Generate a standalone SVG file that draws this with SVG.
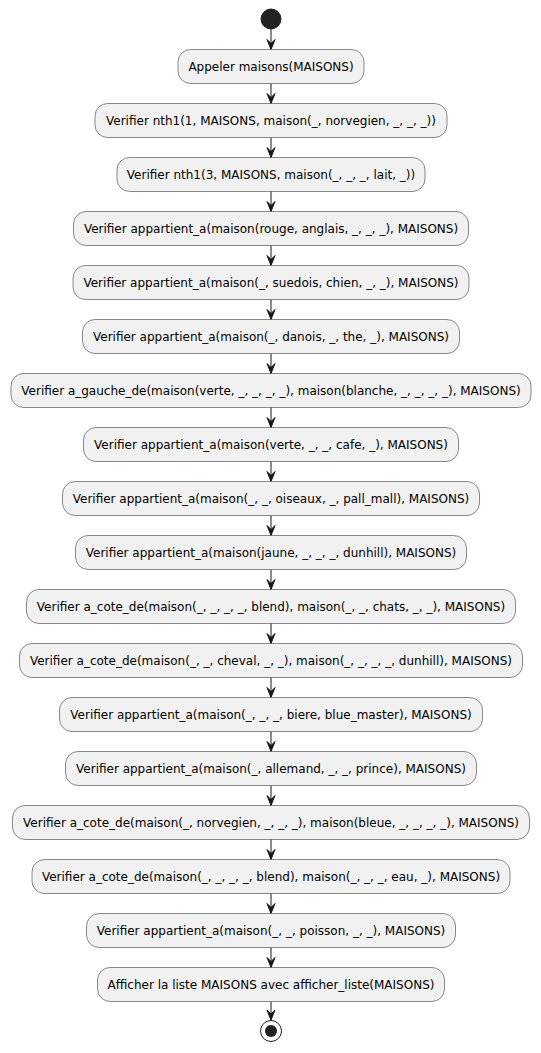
<svg xmlns="http://www.w3.org/2000/svg" width="541" height="1053" viewBox="0 0 541 1053">
<style>
.n{fill:#F1F1F1;stroke:#181818;stroke-width:0.5}
.t{font-family:"DejaVu Sans",sans-serif;font-size:12px;fill:#000;text-anchor:middle}
.c{stroke:#181818;stroke-width:1;fill:none}
</style>
<defs>
<marker id="ah" markerWidth="10" markerHeight="12" viewBox="-5 -11 10 12" refX="0" refY="0" orient="auto-start-reverse" markerUnits="userSpaceOnUse">
<polygon points="-4,-10 0,0 4,-10 0,-6" fill="#181818" stroke="#181818" stroke-width="1" transform="rotate(-90)"/>
</marker>
</defs>
<rect width="541" height="1053" fill="#FFFFFF"/>
<g id="connectors">
<path class="c" d="M271,29 V49.5"/>
<path class="c" d="M271,83.5 V103.5"/>
<path class="c" d="M271,137.5 V157.5"/>
<path class="c" d="M271,191.5 V211.5"/>
<path class="c" d="M271,245.5 V265.5"/>
<path class="c" d="M271,299.5 V319.5"/>
<path class="c" d="M271,353.5 V373.5"/>
<path class="c" d="M271,407.5 V427.5"/>
<path class="c" d="M271,461.5 V481.5"/>
<path class="c" d="M271,515.5 V535.5"/>
<path class="c" d="M271,569.5 V589.5"/>
<path class="c" d="M271,623.5 V643.5"/>
<path class="c" d="M271,677.5 V697.5"/>
<path class="c" d="M271,731.5 V751.5"/>
<path class="c" d="M271,785.5 V805.5"/>
<path class="c" d="M271,839.5 V859.5"/>
<path class="c" d="M271,893.5 V913.5"/>
<path class="c" d="M271,947.5 V967.5"/>
<path class="c" d="M271,1001.5 V1020"/>
<g fill="#181818" stroke="#181818" stroke-width="1">
<polygon points="267,39.5 271,49.5 275,39.5 271,43.5"/>
<polygon points="267,93.5 271,103.5 275,93.5 271,97.5"/>
<polygon points="267,147.5 271,157.5 275,147.5 271,151.5"/>
<polygon points="267,201.5 271,211.5 275,201.5 271,205.5"/>
<polygon points="267,255.5 271,265.5 275,255.5 271,259.5"/>
<polygon points="267,309.5 271,319.5 275,309.5 271,313.5"/>
<polygon points="267,363.5 271,373.5 275,363.5 271,367.5"/>
<polygon points="267,417.5 271,427.5 275,417.5 271,421.5"/>
<polygon points="267,471.5 271,481.5 275,471.5 271,475.5"/>
<polygon points="267,525.5 271,535.5 275,525.5 271,529.5"/>
<polygon points="267,579.5 271,589.5 275,579.5 271,583.5"/>
<polygon points="267,633.5 271,643.5 275,633.5 271,637.5"/>
<polygon points="267,687.5 271,697.5 275,687.5 271,691.5"/>
<polygon points="267,741.5 271,751.5 275,741.5 271,745.5"/>
<polygon points="267,795.5 271,805.5 275,795.5 271,799.5"/>
<polygon points="267,849.5 271,859.5 275,849.5 271,853.5"/>
<polygon points="267,903.5 271,913.5 275,903.5 271,907.5"/>
<polygon points="267,957.5 271,967.5 275,957.5 271,961.5"/>
<polygon points="267,1010 271,1020 275,1010 271,1014"/>
</g>
</g>
<g id="start"><circle cx="271" cy="19" r="10" fill="#222222" stroke="#222222" stroke-width="1"/></g>
<g id="n1"><rect class="n" x="178" y="49.5" width="186" height="34" rx="12.5"/><text class="t" x="271" y="71">Appeler maisons(MAISONS)</text></g>
<g id="n2"><rect class="n" x="95" y="103.5" width="352" height="34" rx="12.5"/><text class="t" x="271" y="125">Verifier nth1(1, MAISONS, maison(_, norvegien, _, _, _))</text></g>
<g id="n3"><rect class="n" x="117" y="157.5" width="308" height="34" rx="12.5"/><text class="t" x="271" y="179">Verifier nth1(3, MAISONS, maison(_, _, _, lait, _))</text></g>
<g id="n4"><rect class="n" x="73.5" y="211.5" width="395" height="34" rx="12.5"/><text class="t" x="271" y="233">Verifier appartient_a(maison(rouge, anglais, _, _, _), MAISONS)</text></g>
<g id="n5"><rect class="n" x="73" y="265.5" width="396" height="34" rx="12.5"/><text class="t" x="271" y="287">Verifier appartient_a(maison(_, suedois, chien, _, _), MAISONS)</text></g>
<g id="n6"><rect class="n" x="82.5" y="319.5" width="377" height="34" rx="12.5"/><text class="t" x="271" y="341">Verifier appartient_a(maison(_, danois, _, the, _), MAISONS)</text></g>
<g id="n7"><rect class="n" x="11" y="373.5" width="520" height="34" rx="12.5"/><text class="t" x="271" y="395">Verifier a_gauche_de(maison(verte, _, _, _, _), maison(blanche, _, _, _, _), MAISONS)</text></g>
<g id="n8"><rect class="n" x="83.5" y="427.5" width="375" height="34" rx="12.5"/><text class="t" x="271" y="449">Verifier appartient_a(maison(verte, _, _, cafe, _), MAISONS)</text></g>
<g id="n9"><rect class="n" x="62.5" y="481.5" width="417" height="34" rx="12.5"/><text class="t" x="271" y="503">Verifier appartient_a(maison(_, _, oiseaux, _, pall_mall), MAISONS)</text></g>
<g id="n10"><rect class="n" x="75.5" y="535.5" width="391" height="34" rx="12.5"/><text class="t" x="271" y="557">Verifier appartient_a(maison(jaune, _, _, _, dunhill), MAISONS)</text></g>
<g id="n11"><rect class="n" x="26.5" y="589.5" width="489" height="34" rx="12.5"/><text class="t" x="271" y="611">Verifier a_cote_de(maison(_, _, _, _, blend), maison(_, _, chats, _, _), MAISONS)</text></g>
<g id="n12"><rect class="n" x="19.5" y="643.5" width="503" height="34" rx="12.5"/><text class="t" x="271" y="665">Verifier a_cote_de(maison(_, _, cheval, _, _), maison(_, _, _, _, dunhill), MAISONS)</text></g>
<g id="n13"><rect class="n" x="59.5" y="697.5" width="423" height="34" rx="12.5"/><text class="t" x="271" y="719">Verifier appartient_a(maison(_, _, _, biere, blue_master), MAISONS)</text></g>
<g id="n14"><rect class="n" x="65.5" y="751.5" width="411" height="34" rx="12.5"/><text class="t" x="271" y="773">Verifier appartient_a(maison(_, allemand, _, _, prince), MAISONS)</text></g>
<g id="n15"><rect class="n" x="12.5" y="805.5" width="517" height="34" rx="12.5"/><text class="t" x="271" y="827">Verifier a_cote_de(maison(_, norvegien, _, _, _), maison(bleue, _, _, _, _), MAISONS)</text></g>
<g id="n16"><rect class="n" x="32" y="859.5" width="478" height="34" rx="12.5"/><text class="t" x="271" y="881">Verifier a_cote_de(maison(_, _, _, _, blend), maison(_, _, _, eau, _), MAISONS)</text></g>
<g id="n17"><rect class="n" x="86.5" y="913.5" width="369" height="34" rx="12.5"/><text class="t" x="271" y="935">Verifier appartient_a(maison(_, _, poisson, _, _), MAISONS)</text></g>
<g id="n18"><rect class="n" x="97.5" y="967.5" width="347" height="34" rx="12.5"/><text class="t" x="271" y="989">Afficher la liste MAISONS avec afficher_liste(MAISONS)</text></g>
<g id="end"><circle cx="271" cy="1031" r="10.5" fill="none" stroke="#222222" stroke-width="1"/><circle cx="271" cy="1031" r="6" fill="#222222"/></g>
</svg>
